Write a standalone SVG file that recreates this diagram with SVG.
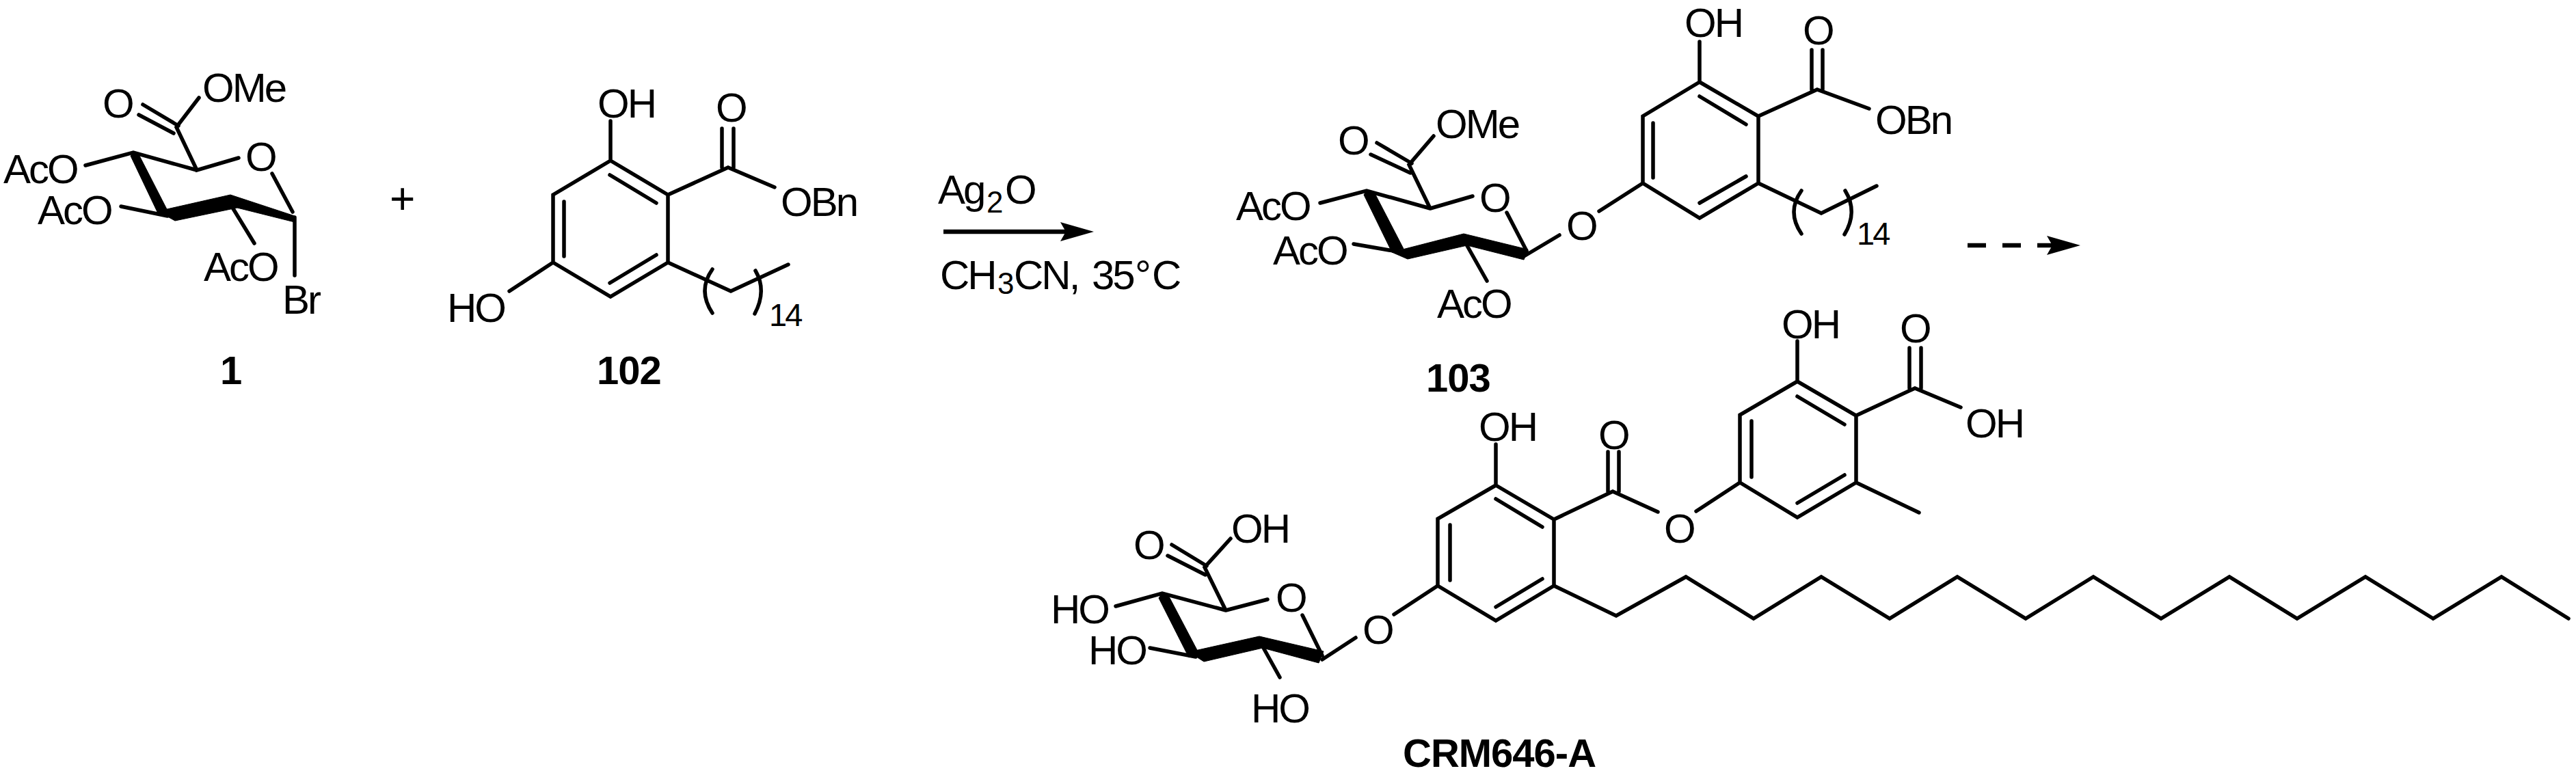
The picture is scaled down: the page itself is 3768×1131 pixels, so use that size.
<svg xmlns="http://www.w3.org/2000/svg" width="3768" height="1131" viewBox="0 0 3768 1131">
<style>
text{font-family:"Liberation Sans",Arial,sans-serif;font-size:60px;letter-spacing:-3px;fill:#000}
.b{font-weight:bold;font-size:58px;letter-spacing:-1px}
.s{font-size:47px}
.bond{fill:none;stroke:#000;stroke-width:5.5;stroke-linecap:round;stroke-linejoin:miter}
.bold{fill:#000;stroke:#000;stroke-width:1;stroke-linejoin:round}
.arrow{fill:none;stroke:#000;stroke-width:6.5}
</style>
<defs>
<marker id="head" markerUnits="userSpaceOnUse" markerWidth="50" markerHeight="28" refX="8" refY="14" orient="auto"><path d="M0,0L49,14L0,28L8,14Z" fill="#000"/></marker>
</defs>
<rect width="3768" height="1131" fill="#fff"/>
<g id="mol-1">
<path class="bond" d="M291,143L258,186L288,249L349,231M288,249L195,223L125,242M254,195L203,168M261,184L209,153M245,316L177,302M339,302L372,356M398,254L428,310M431,318L431,403"/>
<path class="bold" d="M191,228L197,222L204,228L246,310L231,312Z"/>
<path class="bold" d="M231,309L337,285L431,316L431,325L347,304L256,323Z"/>
<text x="296" y="149">OMe</text><text x="150" y="172">O</text><text x="359" y="250">O</text>
<text x="5" y="268">AcO</text><text x="55" y="328">AcO</text><text x="298" y="411">AcO</text><text x="413" y="459">Br</text>
<text class="b" x="322" y="562">1</text>
</g>
<g id="plus"><text x="570" y="313" style="font-size:64px">+</text></g>
<g id="mol-102">
<path class="bond" d="M893,235L893,177M893,235L809,285L809,384L893,434L977,384L977,285L893,235M892,256L960,297M825,295L825,375M960,373L892,414M809,384L745,426M977,285L1065,245L1133,274M1056,188L1056,245M1073,188L1073,245M977,384L1069,426L1153,387"/>
<path class="bond" d="M1042,394Q1020,425 1042,458M1105,396Q1122,425 1104,459"/>
<text x="874" y="172">OH</text><text x="1047" y="178">O</text><text x="1142" y="316">OBn</text><text x="654" y="471">HO</text>
<text class="s" x="1125" y="477">14</text>
<text class="b" x="873" y="562">102</text>
</g>
<g id="reagents">
<text y="298"><tspan x="1372">Ag</tspan><tspan x="1443" y="311" font-size="44">2</tspan><tspan x="1470" y="298">O</tspan></text>
<text y="423"><tspan x="1375">CH</tspan><tspan x="1459" y="430" font-size="44">3</tspan><tspan x="1483" y="423">CN,</tspan><tspan x="1597">35</tspan><tspan x="1660">°</tspan><tspan x="1685">C</tspan></text>
</g>
<g id="mol-103">
<path class="bond" d="M2486,120L2486,61M2486,120L2403,170L2403,268L2486,319L2572,268L2572,170L2486,120M2486,141L2554,182M2418,180L2418,260M2554,258L2486,297M2572,170L2658,131L2734,159M2650,73L2650,131M2666,73L2666,131M2572,268L2664,312L2745,272M2403,268L2339,309M2229,375L2281,344M2092,305L2154,287M2092,305L1999,279L1931,297M2092,305L2061,241L2097,199M2063,253L2005,226M2065,239L2014,209M2049,369L1980,357M2144,356L2175,411M2204,311L2233,367"/>
<path class="bond" d="M2635,279Q2613,310 2635,342M2699,279Q2718,310 2698,343"/>
<path class="bold" d="M1995,285L1999,279L2011,283L2053,364L2036,369Z"/>
<path class="bold" d="M2036,369L2141,342L2235,365L2229,380L2146,359L2059,379Z"/>
<text x="2464" y="54">OH</text><text x="2637" y="65">O</text><text x="2743" y="196">OBn</text><text x="2291" y="351">O</text><text x="2164" y="310">O</text>
<text x="2100" y="202">OMe</text><text x="1957" y="226">O</text><text x="1808" y="322">AcO</text><text x="1862" y="387">AcO</text><text x="2102" y="465">AcO</text>
<text class="s" x="2716" y="358">14</text>
<text class="b" x="2086" y="573">103</text>
</g>
<g id="mol-crm646-a">
<path class="bond" d="M2188,710L2188,650M2188,710L2103,759L2103,857L2188,908L2273,857L2273,760L2188,710M2188,730L2256,771M2121,768L2121,849M2256,847L2188,888M2273,760L2359,719L2425,749M2352,661L2352,719M2368,661L2368,719M2481,748L2545,706L2545,607L2629,558L2715,608L2715,706L2629,757L2545,706M2629,558L2629,499M2629,580L2698,621M2562,616L2562,698M2698,695L2629,736M2715,608L2801,568L2868,596M2793,509L2793,568M2810,509L2810,568M2715,706L2807,750"/>
<path class="bond" d="M2273,857L2364,901L2466,844L2565,905L2664,844L2764,905L2863,844L2963,905L3062,844L3161,905L3261,844L3360,905L3460,844L3559,905L3659,844L3757,905"/>
<path class="bond" d="M2103,857L2039,899M1934,965L1983,933M1793,893L1854,877M1793,893L1700,868L1632,887M1793,893L1762,830L1800,788M1763,841L1708,813M1765,828L1714,797M1749,961L1682,948M1847,946L1872,991M1905,900L1934,959"/>
<path class="bold" d="M1695,875L1700,868L1710,873L1752,953L1739,962Z"/>
<path class="bold" d="M1739,954L1842,931L1936,953L1929,970L1847,948L1761,968Z"/>
<text x="2163" y="645">OH</text><text x="2338" y="657">O</text><text x="2434" y="794">O</text><text x="2606" y="495">OH</text><text x="2779" y="501">O</text><text x="2875" y="640">OH</text>
<text x="1993" y="942">O</text><text x="1866" y="895">O</text><text x="1801" y="794">OH</text><text x="1658" y="818">O</text>
<text x="1537" y="912">HO</text><text x="1592" y="972">HO</text><text x="1830" y="1057">HO</text>
<text class="b" x="2052" y="1122">CRM646-A</text>
</g>
<g id="connectors">
<path class="arrow" d="M1380,339L1559,339" marker-end="url(#head)"/>
<path class="arrow" d="M2878,359L3002,359" stroke-dasharray="27 24" marker-end="url(#head)"/>
</g>
</svg>
